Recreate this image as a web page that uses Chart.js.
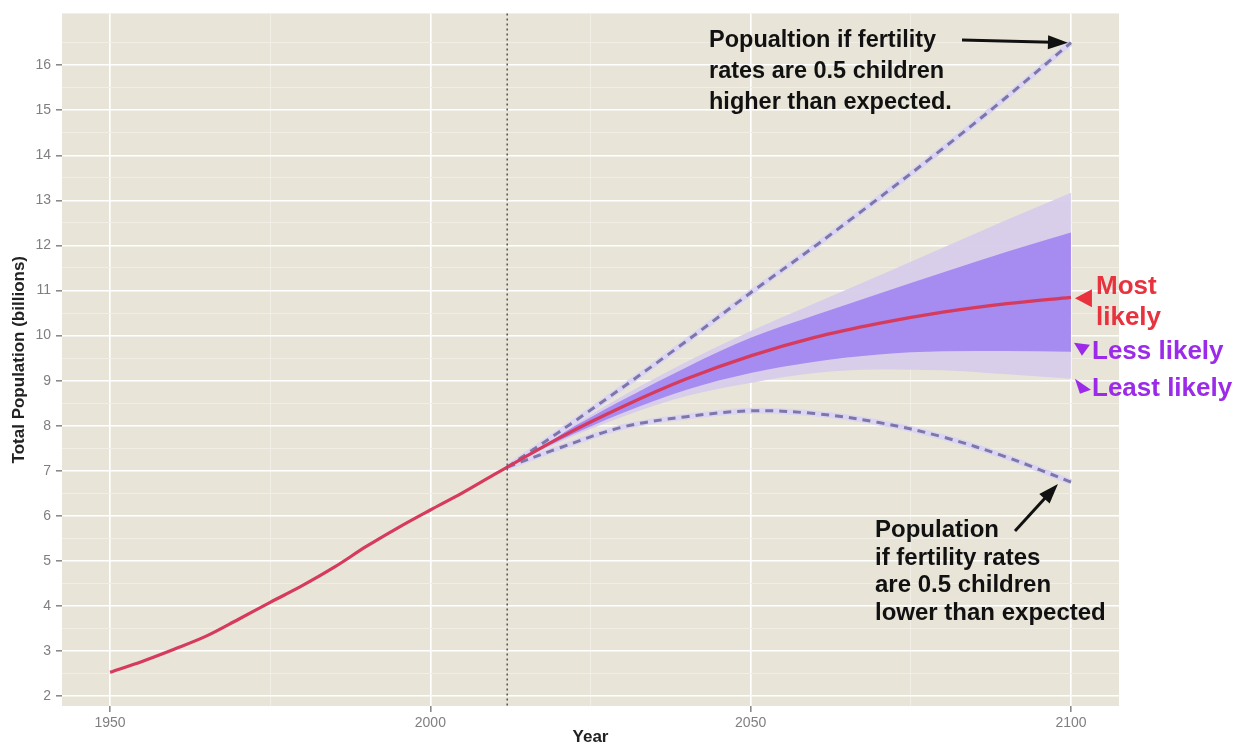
<!DOCTYPE html>
<html><head><meta charset="utf-8">
<script src="https://cdn.jsdelivr.net/npm/chart.js@4.4.1/dist/chart.umd.min.js"></script>
<style>html,body{margin:0;padding:0;background:#fff;overflow:hidden}#wrap{width:1252px;height:744px;position:relative}canvas{display:block}</style>
</head><body><div id="wrap"><canvas id="c" width="1252" height="744" style="width:1252px;height:744px"></canvas></div>
<script>
// ---- data (billions) ----
const histYears = [1950,1955,1960,1965,1970,1975,1980,1985,1990,1995,2000,2005,2010,2012];
const histPop   = [2.53,2.77,3.04,3.33,3.70,4.08,4.45,4.86,5.32,5.74,6.13,6.51,6.92,7.08];
const projYears = [2012,2020,2030,2040,2050,2060,2070,2080,2090,2100];
const medianPop = [7.08,7.72,8.42,9.04,9.55,9.96,10.27,10.52,10.71,10.85];
const pi80Low   = [7.08,7.66,8.28,8.80,9.17,9.42,9.58,9.65,9.66,9.64];
const pi80High  = [7.08,7.78,8.57,9.30,9.95,10.45,10.93,11.40,11.86,12.29];
const pi95Low   = [7.08,7.63,8.20,8.66,8.95,9.17,9.25,9.23,9.14,9.04];
const pi95High  = [7.08,7.81,8.66,9.42,10.10,10.72,11.33,11.95,12.57,13.17];
const highPop   = [7.08,7.85,8.85,9.88,10.95,11.98,13.05,14.15,15.30,16.50];
const lowPop    = [7.08,7.50,7.97,8.20,8.33,8.27,8.07,7.75,7.30,6.75];
const currentYear = 2012;
const xTicks = [1950,1975,2000,2025,2050,2075,2100];
const yTicks = [2,2.5,3,3.5,4,4.5,5,5.5,6,6.5,7,7.5,8,8.5,9,9.5,10,10.5,11,11.5,12,12.5,13,13.5,14,14.5,15,15.5,16,16.5];

const pts = (xs, ys) => xs.map((x,i)=>({x:x, y:ys[i]}));
const medianLine = pts(histYears, histPop).concat(pts(projYears.slice(1), medianPop.slice(1)));

const FONT = '"Liberation Sans", Arial, sans-serif';

const bgPlugin = {
  id:'bg',
  beforeDraw(chart){
    const {ctx, chartArea:a} = chart;
    ctx.save();
    ctx.fillStyle = '#ffffff';
    ctx.fillRect(0,0,chart.width,chart.height);
    ctx.fillStyle = '#e8e5d8';
    ctx.fillRect(a.left, a.top, a.right-a.left, a.bottom-a.top);
    ctx.restore();
  }
};

function arrow(ctx, x1,y1,x2,y2, color){
  const ang = Math.atan2(y2-y1, x2-x1);
  const hl = 20, hw = 7;
  ctx.save();
  ctx.strokeStyle = color; ctx.fillStyle = color; ctx.lineWidth = 3;
  ctx.beginPath(); ctx.moveTo(x1,y1);
  ctx.lineTo(x2 - Math.cos(ang)*hl*0.8, y2 - Math.sin(ang)*hl*0.8); ctx.stroke();
  ctx.beginPath();
  ctx.moveTo(x2,y2);
  ctx.lineTo(x2 - Math.cos(ang)*hl - Math.sin(ang)*hw, y2 - Math.sin(ang)*hl + Math.cos(ang)*hw);
  ctx.lineTo(x2 - Math.cos(ang)*hl + Math.sin(ang)*hw, y2 - Math.sin(ang)*hl - Math.cos(ang)*hw);
  ctx.closePath(); ctx.fill();
  ctx.restore();
}
function tri(ctx, p, color){
  ctx.save(); ctx.fillStyle = color; ctx.beginPath();
  ctx.moveTo(p[0][0],p[0][1]); ctx.lineTo(p[1][0],p[1][1]); ctx.lineTo(p[2][0],p[2][1]);
  ctx.closePath(); ctx.fill(); ctx.restore();
}

const annotPlugin = {
  id:'annot',
  afterDatasetsDraw(chart){
    const {ctx, scales:{x, y}, chartArea:a} = chart;
    const cx = x.getPixelForValue(currentYear);
    ctx.save();
    ctx.strokeStyle = '#5a5a5a'; ctx.lineWidth = 1.6; ctx.setLineDash([2,3]);
    ctx.beginPath(); ctx.moveTo(cx, a.top); ctx.lineTo(cx, a.bottom); ctx.stroke();
    ctx.restore();

    const endX = x.getPixelForValue(2100);
    const last = arr => arr[arr.length-1];
    ctx.save();
    ctx.fillStyle = '#111'; ctx.textBaseline = 'alphabetic';
    ctx.font = 'bold 23.5px ' + FONT;
    ['Popualtion if fertility','rates are 0.5 children','higher than expected.'].forEach((t,i)=>ctx.fillText(t, 709, 47 + i*31));
    ctx.font = 'bold 24px ' + FONT;
    ['Population','if fertility rates','are 0.5 children','lower than expected'].forEach((t,i)=>ctx.fillText(t, 875, 537 + i*27.5));
    ctx.restore();
    arrow(ctx, 962, 40, endX - 3, y.getPixelForValue(last(highPop)), '#111');
    arrow(ctx, 1015, 531, endX - 13, y.getPixelForValue(last(lowPop)) + 2, '#111');

    const my = y.getPixelForValue(last(medianPop));
    tri(ctx, [[endX+4, my+1],[endX+21, my-8],[endX+21, my+10]], '#e8323e');
    const ly = y.getPixelForValue(last(pi80Low));
    tri(ctx, [[endX+3, ly-9],[endX+19, ly-7],[endX+11, ly+4]], '#9b2be8');
    const sy = y.getPixelForValue(last(pi95Low));
    tri(ctx, [[endX+4, sy],[endX+9, sy+15],[endX+20, sy+11]], '#9b2be8');
    ctx.save();
    ctx.font = 'bold 26px ' + FONT;
    ctx.fillStyle = '#e8323e';
    ctx.fillText('Most', 1096, 294);
    ctx.fillText('likely', 1096, 325);
    ctx.fillStyle = '#9b2be8';
    ctx.fillText('Less likely', 1092, 359);
    ctx.fillText('Least likely', 1092, 396);
    ctx.restore();
  }
};

const isMajor = v => Math.abs(v - Math.round(v)) < 1e-9;
const band = {borderWidth:0, pointRadius:0, cubicInterpolationMode:'monotone'};

new Chart(document.getElementById('c'), {
  type:'line',
  data:{ datasets:[
    Object.assign({label:'95% upper', data:pts(projYears, pi95High), fill:false, order:10}, band),
    Object.assign({label:'95% lower', data:pts(projYears, pi95Low), fill:0, backgroundColor:'rgba(214,204,236,0.92)', order:10}, band),
    Object.assign({label:'80% upper', data:pts(projYears, pi80High), fill:false, order:9}, band),
    Object.assign({label:'80% lower', data:pts(projYears, pi80Low), fill:2, backgroundColor:'rgba(163,135,240,0.95)', order:9}, band),
    {label:'high halo', data:pts(projYears, highPop), borderColor:'#dcd5f2', borderWidth:6, pointRadius:0, fill:false, order:5, cubicInterpolationMode:'monotone'},
    {label:'High fertility', data:pts(projYears, highPop), borderColor:'#7c77a8', borderWidth:3, borderDash:[8,6], pointRadius:0, fill:false, order:4, cubicInterpolationMode:'monotone'},
    {label:'low halo', data:pts(projYears, lowPop), borderColor:'#dcd5f2', borderWidth:6, pointRadius:0, fill:false, order:5, tension:0.35},
    {label:'Low fertility', data:pts(projYears, lowPop), borderColor:'#7c77a8', borderWidth:3, borderDash:[8,6], pointRadius:0, fill:false, order:4, tension:0.35},
    {label:'Most likely', data:medianLine, borderColor:'#d63a5c', borderWidth:3.2, pointRadius:0, fill:false, order:1, cubicInterpolationMode:'monotone'}
  ]},
  options:{
    responsive:false, animation:false, devicePixelRatio:1,
    layout:{padding:{top:9, right:133, bottom:0, left:0}},
    plugins:{legend:{display:false}, tooltip:{enabled:false}},
    elements:{line:{borderCapStyle:'butt'}},
    scales:{
      x:{type:'linear', min:1942.5, max:2107.5,
        afterBuildTicks: s => { s.ticks = xTicks.map(v=>({value:v})); },
        afterFit: s => { s.height = 38; },
        ticks:{autoSkip:false, maxRotation:0, padding:3, color:'#7f7f7f', font:{family:FONT, size:14},
          callback: v => (v % 50 === 0 ? String(v) : '')},
        grid:{color: c => (c.tick && c.tick.value % 50 === 0) ? '#ffffff' : '#f1eee5',
              lineWidth: c => (c.tick && c.tick.value % 50 === 0) ? 1.6 : 1,
              tickColor: c => (c.tick && c.tick.value % 50 === 0) ? '#8a8a8a' : 'rgba(0,0,0,0)',
              tickLength:6},
        border:{display:false},
        title:{display:true, text:'Year', color:'#222', font:{family:FONT, size:17, weight:'bold'}, padding:{top:0,bottom:-4}}
      },
      y:{type:'linear', min:1.78, max:17.15,
        afterBuildTicks: s => { s.ticks = yTicks.map(v=>({value:v})); },
        afterFit: s => { s.width = 62; },
        ticks:{autoSkip:false, padding:5, color:'#7f7f7f', font:{family:FONT, size:14},
          callback: v => (isMajor(v) ? String(v) : '')},
        grid:{color: c => (c.tick && isMajor(c.tick.value)) ? '#ffffff' : '#f1eee5',
              lineWidth: c => (c.tick && isMajor(c.tick.value)) ? 1.6 : 1,
              tickColor: c => (c.tick && isMajor(c.tick.value)) ? '#8a8a8a' : 'rgba(0,0,0,0)',
              tickLength:6},
        border:{display:false},
        title:{display:true, text:'Total Population (billions)', color:'#222', font:{family:FONT, size:17, weight:'bold'}, padding:{top:9,bottom:0}}
      }
    }
  },
  plugins:[bgPlugin, annotPlugin]
});
</script></body></html>
